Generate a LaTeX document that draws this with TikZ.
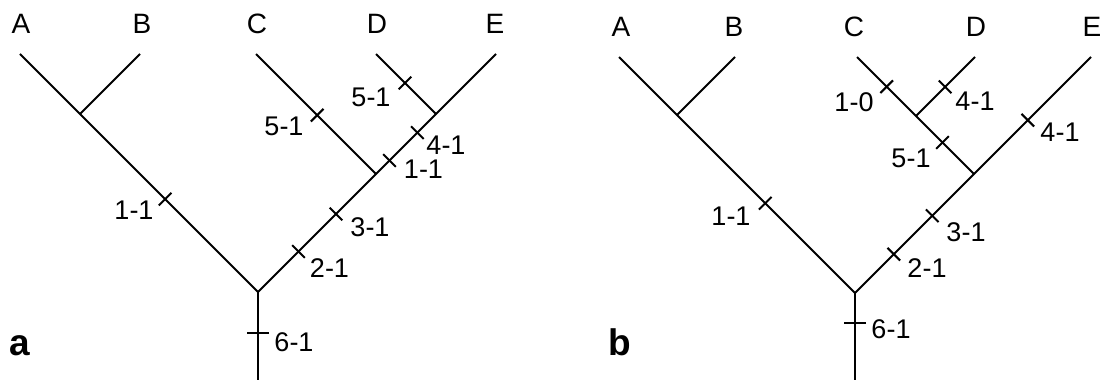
\documentclass[tikz,border=0pt]{standalone}
\usepackage{fontspec}
\setmainfont{Liberation Sans}
\usetikzlibrary{calc}
\tikzset{
  br/.style={line width=2pt},
  lab/.style={font=\fontsize{27}{27}\selectfont, inner sep=0pt},
  taxon/.style={font=\fontsize{28}{28}\selectfont, inner sep=0pt},
  panel/.style={font=\fontsize{37}{37}\selectfont\bfseries, inner sep=0pt, anchor=base},
}
\newcommand\mytick[5]{%
  \coordinate (#4) at ($(#1)!#3!(#2)$);
  \draw[br] ($(#4)!#5!90:(#2)$) -- ($(#4)!#5!-90:(#2)$);}
\begin{document}
\begin{tikzpicture}[x=1pt,y=-1pt]
\useasboundingbox (0,0) rectangle (1106,382);
% ---------------- panel a ----------------
\coordinate (aR) at (258,292);
\coordinate (aRb) at (258,380);
\coordinate (aA) at (20,54);
\coordinate (aAB) at (80,114);
\coordinate (aB) at (140,54);
\coordinate (aCDE) at (376,174);
\coordinate (aC) at (256,54);
\coordinate (aDE) at (436,114);
\coordinate (aD) at (376,54);
\coordinate (aE) at (496,54);
\node[taxon] (laA) at (21,24) {A};
\node[taxon] (laB) at (142,24) {B};
\node[taxon] (laC) at (257,24) {C};
\node[taxon] (laD) at (377,24) {D};
\node[taxon] (laE) at (495,24) {E};
\draw[br] (aA) -- (aAB) -- (aR) -- (aCDE) -- (aDE) -- (aE);
\draw[br] (aB) -- (aAB);
\draw[br] (aC) -- (aCDE);
\draw[br] (aD) -- (aDE);
\draw[br] (aR) -- (aRb);
\mytick{aR}{aAB}{0.522}{ta1}{9pt}
\mytick{aR}{aCDE}{0.343}{ta2}{9pt}
\mytick{aR}{aCDE}{0.661}{ta3}{9pt}
\mytick{aCDE}{aDE}{0.225}{ta4}{9pt}
\mytick{aCDE}{aDE}{0.69}{ta5}{9pt}
\mytick{aCDE}{aC}{0.49}{ta6}{9pt}
\mytick{aDE}{aD}{0.517}{ta7}{9pt}
\mytick{aR}{aRb}{0.466}{ta8}{11pt}
\node[lab] (la1) at (134,210) {1-1};
\node[lab] (la2) at (329.5,268) {2-1};
\node[lab] (la3) at (370,227) {3-1};
\node[lab] (la4) at (423.5,169) {1-1};
\node[lab] (la5) at (446,145) {4-1};
\node[lab] (la6) at (284,126.5) {5-1};
\node[lab] (la7) at (371,97) {5-1};
\node[lab] (la8) at (294,342) {6-1};
\node[panel] (pa) at (20,355) {a};
% ---------------- panel b ----------------
\coordinate (bR) at (855,293);
\coordinate (bRb) at (855,380);
\coordinate (bA) at (619,57);
\coordinate (bAB) at (677,115);
\coordinate (bB) at (735,57);
\coordinate (bCDE) at (974,174);
\coordinate (bCD) at (916,116);
\coordinate (bC) at (857,57);
\coordinate (bD) at (975,57);
\coordinate (bE) at (1091,57);
\node[taxon] (lbA) at (621,27) {A};
\node[taxon] (lbB) at (734,27) {B};
\node[taxon] (lbC) at (854,27) {C};
\node[taxon] (lbD) at (976,27) {D};
\node[taxon] (lbE) at (1092,27) {E};
\draw[br] (bA) -- (bAB) -- (bR) -- (bCDE) -- (bE);
\draw[br] (bB) -- (bAB);
\draw[br] (bCDE) -- (bCD) -- (bC);
\draw[br] (bD) -- (bCD);
\draw[br] (bR) -- (bRb);
\mytick{bR}{bAB}{0.504}{tb1}{9pt}
\mytick{bR}{bCDE}{0.326}{tb2}{9pt}
\mytick{bR}{bCDE}{0.649}{tb3}{9pt}
\mytick{bCDE}{bE}{0.46}{tb4}{9pt}
\mytick{bCDE}{bCD}{0.543}{tb5}{9pt}
\mytick{bCD}{bC}{0.497}{tb6}{9pt}
\mytick{bCD}{bD}{0.494}{tb7}{9pt}
\mytick{bR}{bRb}{0.345}{tb8}{11pt}
\node[lab] (lb1) at (731,216) {1-1};
\node[lab] (lb2) at (927,268) {2-1};
\node[lab] (lb3) at (966,232) {3-1};
\node[lab] (lb4) at (1060,132.5) {4-1};
\node[lab] (lb5) at (911,158) {5-1};
\node[lab] (lb6) at (854,102.5) {1-0};
\node[lab] (lb7) at (975,101.5) {4-1};
\node[lab] (lb8) at (891,329) {6-1};
\node[panel] (pb) at (620,355) {b};
\end{tikzpicture}
\end{document}
